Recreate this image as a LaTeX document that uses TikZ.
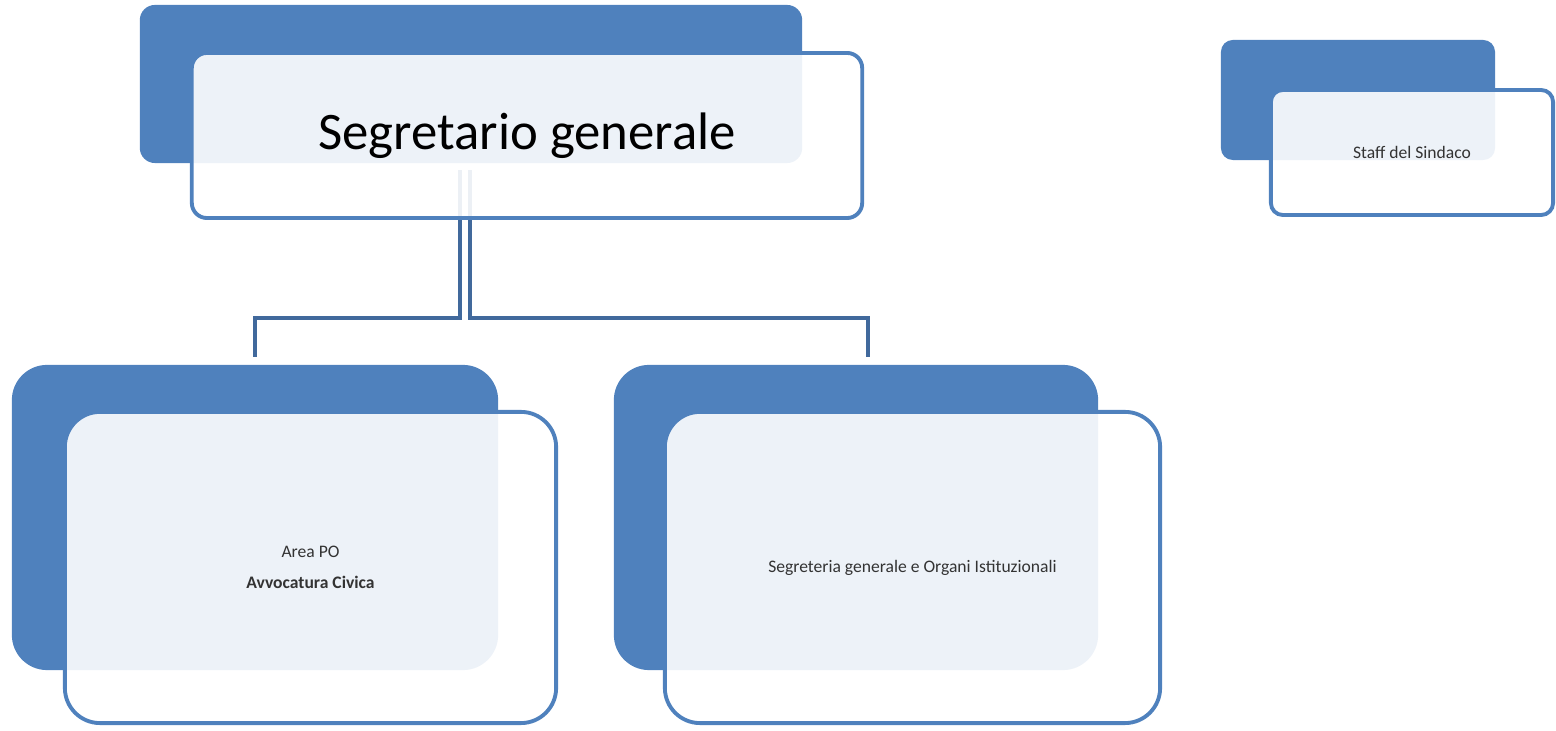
\documentclass[tikz,border=0pt]{standalone}
\usepackage{fontspec}
\setmainfont{Carlito}
\definecolor{boxblue}{HTML}{4F81BD}
\definecolor{lineblue}{HTML}{41699C}
\definecolor{textgray}{HTML}{333333}
\begin{document}
\begin{tikzpicture}[x=0.01cm,y=-0.01cm,
  back/.style={fill=boxblue,rounded corners=#1},
  front/.style={draw=boxblue,line width=1.1pt,fill=white,fill opacity=0.9,
    text opacity=1,rounded corners=#1,align=center},
  link/.style={draw=lineblue,line width=1.1pt},
  small/.style={font=\fontsize{5}{8.8}\selectfont,text=textgray}]
  \useasboundingbox (0,0) rectangle (1556,731);

  % back cards
  \node[back=4.3pt,minimum width=6.62cm,minimum height=1.58cm] (sgback) at (471,84) {};
  \node[back=3.4pt,minimum width=2.74cm,minimum height=1.20cm] (staffback) at (1358,100) {};
  \node[back=10pt,minimum width=4.86cm,minimum height=3.05cm] (areaback) at (255,517.5) {};
  \node[back=10pt,minimum width=4.84cm,minimum height=3.05cm] (segrback) at (856,517.5) {};

  % connectors
  \coordinate (lsplit) at (460,170);
  \coordinate (rsplit) at (470,170);
  \coordinate (lfoot) at (255,357);
  \coordinate (rfoot) at (868,357);
  \draw[link] (lsplit) -- ++(0,148) -| (lfoot);
  \draw[link] (rsplit) -- ++(0,148) -| (rfoot);

  % front cards
  \node[front=4.3pt,minimum width=6.70cm,minimum height=1.65cm,
    font=\fontsize{15}{18}\selectfont] (sg) at (527,135.5) {Segretario generale};
  \node[front=3.4pt,minimum width=2.82cm,minimum height=1.25cm,small] (staff) at (1412,152.5) {Staff del Sindaco};
  \node[front=10pt,minimum width=4.91cm,minimum height=3.11cm,small] (area) at (310.5,567.5)
    {Area PO\\\textbf{Avvocatura Civica}};
  \node[front=10pt,minimum width=4.95cm,minimum height=3.11cm,small] (segr) at (912.5,567.5)
    {Segreteria generale e Organi Istituzionali};
\end{tikzpicture}
\end{document}
